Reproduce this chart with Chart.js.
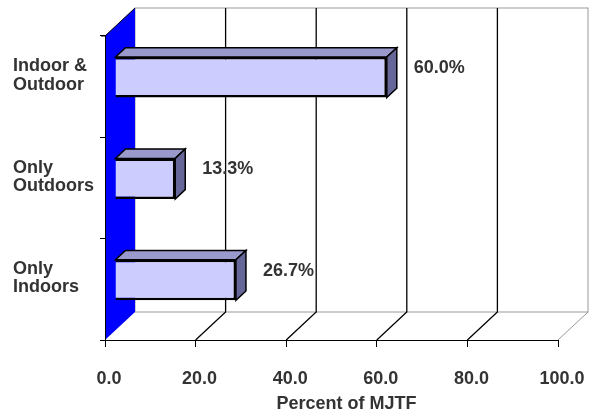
<!DOCTYPE html>
<html>
<head>
<meta charset="utf-8">
<script src="https://cdn.jsdelivr.net/npm/chart.js@4"></script>
<style>
  body { margin: 0; background: #fff; }
  #wrap { width: 592px; height: 414px; }
</style>
</head>
<body>
<div id="wrap"><canvas id="chart" width="592" height="414"></canvas></div>
<script>
const categories = [['Indoor &', 'Outdoor'], ['Only', 'Outdoors'], ['Only', 'Indoors']];
const percents = [60.0, 13.3, 26.7];
const xTicks = [0, 20, 40, 60, 80, 100];
const axisTitle = 'Percent of MJTF';

// depth of the 3d box, and where the bars sit inside it
const DEPTH_X = 30, DEPTH_Y = -28;
const BAR_X = 10, BAR_Y = -9.33;

const FONT = '"Liberation Sans", Arial, sans-serif';
const TEXT = '#333';

// walls, floor and back gridlines
const box3d = {
  id: 'box3d',
  beforeDraw(chart) {
    const ctx = chart.ctx;
    const a = chart.chartArea;
    const xs = chart.scales.x;
    const bl = a.left + DEPTH_X, bt = a.top + DEPTH_Y;
    const br = a.right + DEPTH_X, bb = a.bottom + DEPTH_Y;
    ctx.save();
    ctx.lineWidth = 1;

    // back wall
    ctx.strokeStyle = '#999';
    ctx.strokeRect(bl, bt, br - bl, bb - bt);

    // floor right edge
    ctx.beginPath();
    ctx.moveTo(a.right, a.bottom);
    ctx.lineTo(br, bb);
    ctx.stroke();

    // gridlines on back wall + floor
    ctx.strokeStyle = '#000';
    ctx.lineWidth = 1.3;
    xTicks.forEach(v => {
      if (v === xTicks[0] || v === xTicks[xTicks.length - 1]) return;
      const px = xs.getPixelForValue(v);
      ctx.beginPath();
      ctx.moveTo(px + DEPTH_X, bt);
      ctx.lineTo(px + DEPTH_X, bb);
      ctx.lineTo(px, a.bottom);
      ctx.stroke();
    });

    // blue side wall
    ctx.fillStyle = '#0000FF';
    ctx.beginPath();
    ctx.moveTo(a.left, a.top);
    ctx.lineTo(bl, bt);
    ctx.lineTo(bl, bb);
    ctx.lineTo(a.left, a.bottom);
    ctx.closePath();
    ctx.fill();
    ctx.lineWidth = 1;
    ctx.beginPath();
    ctx.moveTo(a.left - 4, a.top);
    ctx.lineTo(a.left, a.top);
    ctx.lineTo(bl, bt);
    ctx.stroke();
    ctx.restore();
  },
  beforeDatasetsDraw(chart) {
    const ctx = chart.ctx;
    ctx.save();
    ctx.translate(BAR_X, BAR_Y);
    const bars = chart.getDatasetMeta(0).data;
    bars.forEach(bar => {
      const p = bar.getProps(['x', 'y', 'base', 'height'], true);
      const top = p.y - p.height / 2, bottom = p.y + p.height / 2;
      ctx.lineWidth = 1.5;
      ctx.strokeStyle = '#000';
      // top face
      ctx.fillStyle = '#9999CC';
      ctx.beginPath();
      ctx.moveTo(p.base, top);
      ctx.lineTo(p.x, top);
      ctx.lineTo(p.x + BAR_X, top + BAR_Y);
      ctx.lineTo(p.base + BAR_X, top + BAR_Y);
      ctx.closePath();
      ctx.fill();
      ctx.stroke();
      // side face
      ctx.fillStyle = '#666699';
      ctx.beginPath();
      ctx.moveTo(p.x, top);
      ctx.lineTo(p.x + BAR_X, top + BAR_Y);
      ctx.lineTo(p.x + BAR_X, bottom + BAR_Y);
      ctx.lineTo(p.x, bottom);
      ctx.closePath();
      ctx.fill();
      ctx.stroke();
    });
  },
  afterDatasetsDraw(chart) {
    const ctx = chart.ctx;
    ctx.restore();
    ctx.save();
    ctx.fillStyle = TEXT;
    ctx.font = 'bold 18px ' + FONT;
    ctx.textBaseline = 'middle';
    ctx.textAlign = 'left';
    chart.getDatasetMeta(0).data.forEach((bar, i) => {
      const p = bar.getProps(['x', 'y'], true);
      ctx.fillText(percents[i].toFixed(1) + '%', p.x + 2 * BAR_X + 17, p.y + 2 * BAR_Y);
    });
    ctx.restore();
  },
  afterDraw(chart) {
    // axis title is centred over the whole floor, depth included
    const ctx = chart.ctx;
    const a = chart.chartArea;
    ctx.save();
    ctx.fillStyle = TEXT;
    ctx.font = 'bold 18px ' + FONT;
    ctx.textAlign = 'center';
    ctx.textBaseline = 'middle';
    ctx.fillText(axisTitle, (a.left + a.right + DEPTH_X) / 2, 404);
    ctx.restore();
  }
};

const tickFont = { family: FONT, size: 18, weight: 'bold' };

new Chart(document.getElementById('chart'), {
  type: 'bar',
  data: {
    labels: categories,
    datasets: [{
      data: percents,
      backgroundColor: '#CCCCFF',
      borderColor: '#000',
      borderWidth: 2.5,
      barPercentage: 0.4,
      categoryPercentage: 1
    }]
  },
  options: {
    indexAxis: 'y',
    responsive: false,
    animation: false,
    layout: { padding: { left: 13, top: 36, right: 34, bottom: 0 } },
    plugins: { legend: { display: false }, tooltip: { enabled: false } },
    scales: {
      x: {
        min: 0,
        max: 100,
        afterBuildTicks(s) { s.ticks = xTicks.map(v => ({ value: v })); },
        grid: { drawOnChartArea: false, color: '#000', tickLength: 7 },
        border: { color: '#000' },
        ticks: {
          padding: 21,
          labelOffset: 4,
          color: TEXT,
          font: tickFont,
          callback: v => Number(v).toFixed(1)
        },
        afterFit(s) {
          s.height = 74;
          s.paddingLeft = 0;
          s.paddingRight = 0;
        }
      },
      y: {
        grid: { drawOnChartArea: false, color: '#000', tickLength: 5, offset: true },
        border: { color: '#000' },
        ticks: {
          crossAlign: 'far',
          labelOffset: -11,
          color: TEXT,
          font: { family: FONT, size: 18, weight: 'bold', lineHeight: 1.02 }
        },
        afterFit(s) { s.width = 92; }
      }
    }
  },
  plugins: [box3d]
});
</script>
</body>
</html>
